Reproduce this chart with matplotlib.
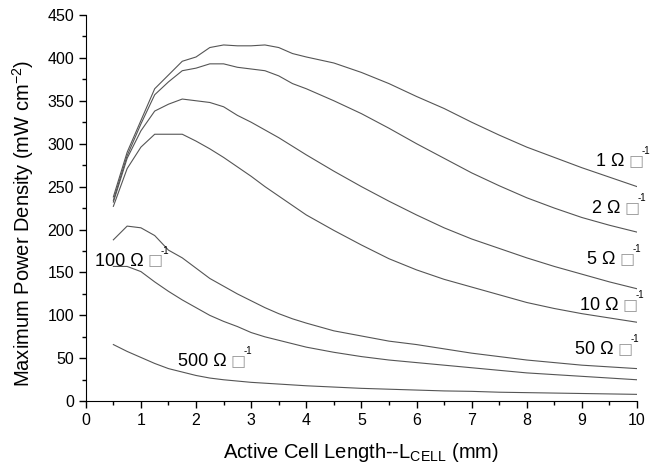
import matplotlib
matplotlib.use("Agg")
import matplotlib.pyplot as plt
import numpy as np

plt.rcParams["font.family"] = ["Liberation Sans", "DejaVu Sans"]
plt.rcParams["mathtext.fontset"] = "custom"
plt.rcParams["mathtext.rm"] = "Liberation Sans"

# cell length (mm)
length = [0.5, 0.75, 1.0, 1.25, 1.5, 1.75, 2.0, 2.25, 2.5, 2.75, 3.0, 3.25, 3.5,
          3.75, 4.0, 4.5, 5.0, 5.5, 6.0, 6.5, 7.0, 7.5, 8.0, 8.5, 9.0, 9.5, 10.0]

# max power density (mW cm-2) for each sheet resistance
p_1 = [238, 290, 327, 364, 380, 396, 401, 412, 415, 414, 414, 415, 412,
       405, 401, 394, 383, 370, 355, 341, 325, 310, 296, 284, 272, 261, 250]
p_2 = [234, 286, 323, 357, 372, 385, 388, 393, 393, 389, 387, 385, 379,
       370, 364, 350, 335, 318, 300, 283, 266, 251, 237, 225, 214, 205, 197]
p_5 = [232, 283, 315, 338, 346, 352, 350, 348, 343, 333, 325, 316, 307,
       297, 287, 268, 250, 233, 217, 202, 189, 178, 167, 157, 148, 139, 131]
p_10 = [227, 271, 296, 311, 311, 311, 303, 294, 284, 273, 262, 250, 239,
        228, 217, 199, 182, 166, 153, 142, 133, 124, 115, 108, 102, 97, 92]
p_50 = [188, 204, 202, 193, 176, 167, 155, 143, 134, 125, 117, 109, 102,
        96, 91, 82, 76, 70, 66, 61, 56, 52, 48, 45, 42, 40, 38]
p_100 = [157, 157, 151, 139, 128, 118, 109, 100, 93, 87, 80, 75, 71,
         67, 63, 57, 52, 48, 45, 42, 39, 36, 33, 31, 29, 27, 25]
p_500 = [66, 58, 51, 44, 38, 34, 30, 27, 25, 23.5, 22, 21, 20,
         19, 18, 16.5, 15, 14, 13, 12, 11.5, 10.5, 10, 9.5, 9, 8.5, 8]

series = [p_1, p_2, p_5, p_10, p_50, p_100, p_500]
labels = ["1", "2", "5", "10", "50", "100", "500"]
# label anchor (left, baseline) in data coords
label_x = [9.25, 9.18, 9.1, 8.96, 8.88, 0.16, 1.67]
label_y = [274, 219, 160, 106, 55, 158, 41]

fig = plt.figure(figsize=(6.5, 4.66), dpi=100)
ax = fig.add_axes([0.132, 0.139, 0.848, 0.829])

for p in series:
    ax.plot(length, p, color="#555555", lw=0.8)

for lab, lx, ly in zip(labels, label_x, label_y):
    t1 = ax.text(lx, ly, lab + " \u03a9", fontsize=13, va="baseline", ha="left")
    t2 = ax.annotate("\u25a1", xy=(1, 0), xycoords=t1, xytext=(3, 1.5),
                     textcoords="offset points", va="bottom", ha="left",
                     fontsize=11.5, color="#999999", family="DejaVu Sans")
    ax.annotate("-1", xy=(1, 0.8), xycoords=t2, xytext=(-1.5, 0),
                textcoords="offset points", va="bottom", ha="left", fontsize=7)

ax.set_xlim(0, 10)
ax.set_ylim(0, 450)
ax.set_xticks(np.arange(0, 11, 1))
ax.set_xticks(np.arange(0.5, 10, 1), minor=True)
ax.set_yticks(np.arange(0, 451, 50))
ax.set_yticks(np.arange(25, 450, 50), minor=True)
ax.tick_params(which="major", length=5, width=1, labelsize=11.5)
ax.tick_params(which="minor", length=3, width=1)
ax.spines["top"].set_visible(False)
ax.spines["right"].set_visible(False)

ax.set_xlabel("Active Cell Length--L$_{\\mathrm{CELL}}$ (mm)", fontsize=14.5, labelpad=9)
ax.set_ylabel("Maximum Power Density (mW cm$^{-2}$)", fontsize=14.5)
ax.yaxis.set_label_coords(-0.091, 0.46)

fig.savefig("out.png", dpi=100)
